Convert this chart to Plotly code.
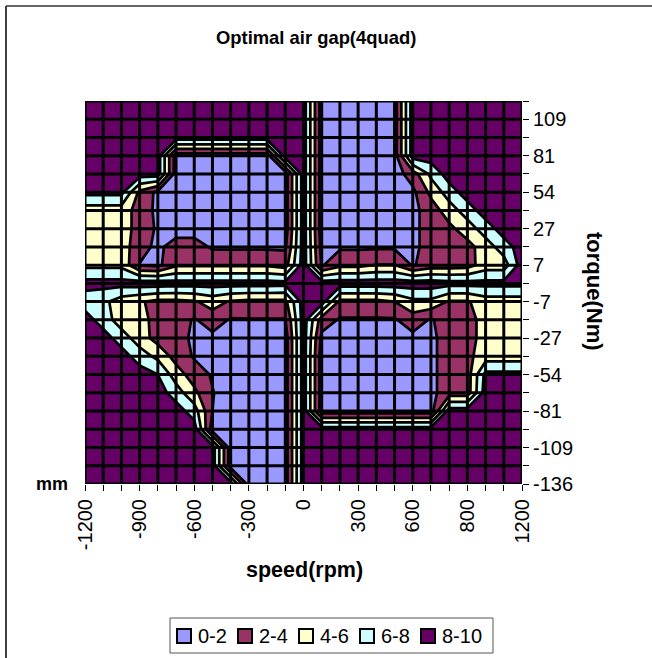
import plotly.graph_objects as go

W, H = 652, 658
L, R, T, B = 85, 522, 101, 484

title = "Optimal air gap(4quad)"
speed_labels = ["-1200", "", "", "-900", "", "", "-600", "", "", "-300", "", "", "0", "", "", "300", "", "", "600", "", "", "800", "", "", "1200"]
torque_labels = ["", "109", "", "81", "", "54", "", "27", "", "7", "", "-7", "", "-27", "", "-54", "", "-81", "", "-109", "", "-136"]
band_names = ["0-2", "2-4", "4-6", "6-8", "8-10"]
band_colors = ["#9999FF", "#993366", "#FFFFCC", "#CCFFFF", "#660066"]

gap_r00 = [9]*13 + [1]*5 + [9]*7
gap_r01 = [9]*13 + [1]*5 + [9]*7
gap_r02 = [9]*13 + [1]*5 + [9]*7
gap_r03 = [9]*5 + [1]*6 + [9, 9] + [1]*5 + [9]*7
gap_r04 = [9]*5 + [1]*7 + [9] + [1]*5 + [3, 6.5] + [9]*5
gap_r05 = [8.6]*3 + [3.5, 1.5] + [1]*7 + [9] + [1]*5 + [1.5, 4.5, 7] + [9]*4
gap_r06 = [5]*3 + [3.2, 1.5] + [1]*7 + [9] + [1]*5 + [1.4, 3, 5, 7] + [9]*3
gap_r07 = [5]*3 + [3.2, 1.7] + [1]*7 + [9] + [1]*5 + [1.4, 3, 3.5, 5, 7] + [9]*2
gap_r08 = [5]*3 + [2.8, 1.5, 3, 3] + [1.7]*5 + [9, 1.3] + [1.7]*4 + [1.4, 3, 3, 3.3, 5, 7, 9]
gap_r09 = [5.5]*3 + [1.9, 1.5] + [3.7]*6 + [3.2, 9, 1.8, 3.5, 3.5, 4.1, 4.1, 1.8, 3, 3, 3.2, 5, 5, 9]
gap_r10 = [8.7]*3 + [9]*2 + [8.8]*6 + [8.6, 9, 9] + [9]*6 + [8.7, 8.7, 8.6, 8.6, 8.6]
gap_r11 = [7, 6.5, 5, 4.2, 3.5, 3.5, 3.8, 4.8, 3.8, 3.5, 3.5, 3.5, 9, 9, 3.5, 3.5, 3.5, 4, 5.5, 5.5, 3.8, 3.8, 5, 5, 5]
gap_r12 = [9, 7, 5, 5, 3, 3, 1.8, 3, 1.8, 1.9, 1.9, 1.9, 9, 3, 1.8, 1.8, 1.8, 1.8, 3, 1.8, 3, 3, 5, 5, 5]
gap_r13 = [9, 9, 7, 5, 3.2, 3, 1.5, 1.5, 1, 1, 1, 1, 9, 1.5, 1, 1, 1, 1, 1.5, 1.5, 3, 3, 5, 5, 5]
gap_r14 = [9, 9, 9, 7, 5.5, 3.2, 1.8, 1, 1, 1, 1, 1, 9, 1, 1, 1, 1, 1, 1, 1.5, 3, 3.5, 5, 5, 5]
gap_r15 = [9, 9, 9, 9, 8, 5, 3, 1.8, 1, 1, 1, 1, 9, 1, 1, 1, 1, 1, 1, 1.5, 3, 3, 8.6, 8.6, 8.6]
gap_r16 = [9]*5 + [7, 4.5, 2.1] + [1]*4 + [9] + [1]*6 + [1.5, 3, 3, 9, 9, 9]
gap_r17 = [9]*6 + [7, 2] + [1]*4 + [9] + [1]*7 + [9]*5
gap_r18 = [9]*7 + [1]*5 + [9] + [9]*12
gap_r19 = [9]*8 + [1]*4 + [9] + [9]*12
gap_r20 = [9]*8 + [1]*4 + [9] + [9]*12
gap_r21 = [9]*9 + [1]*3 + [9] + [9]*12
gap = [gap_r00, gap_r01, gap_r02, gap_r03, gap_r04, gap_r05, gap_r06, gap_r07, gap_r08, gap_r09, gap_r10,
       gap_r11, gap_r12, gap_r13, gap_r14, gap_r15, gap_r16, gap_r17, gap_r18, gap_r19, gap_r20, gap_r21]

nx, ny = len(speed_labels), len(torque_labels)
xs, ys = list(range(nx)), list(range(ny))

stepped = []
for k, c in enumerate(band_colors):
    stepped += [[k / 5, c], [(k + 1) / 5, c]]

fig = go.Figure()
fig.add_trace(go.Contour(
    x=xs, y=ys, z=gap, colorscale=stepped, showscale=False, showlegend=False, hoverinfo="skip",
    autocontour=False, contours=dict(start=2, end=8, size=2, coloring="fill"),
    line=dict(color="black", width=2.7), connectgaps=False, line_smoothing=0,
))

# category grid over the filled bands
gx, gy = [], []
for i in xs:
    gx += [i, i, None]
    gy += [0, ny - 1, None]
for j in ys:
    gx += [0, nx - 1, None]
    gy += [j, j, None]
fig.add_trace(go.Scatter(x=gx, y=gy, mode="lines", line=dict(color="black", width=3),
                         showlegend=False, hoverinfo="skip", cliponaxis=False))


def px(v):
    return (v - L) / (R - L)


def py(v):
    return 1 - (v - T) / (B - T)


def rect(x0, y0, x1, y1, fill, color, width):
    return dict(type="rect", xref="paper", yref="paper", x0=px(x0), x1=px(x1), y0=py(y0), y1=py(y1),
                fillcolor=fill, line=dict(color=color, width=width))


# chart area frame: only top and left edges are visible
shapes = [
    dict(type="line", xref="paper", yref="paper", x0=px(6), x1=px(6), y0=py(6), y1=py(H), line=dict(color="black", width=1.5)),
    dict(type="line", xref="paper", yref="paper", x0=px(6), x1=px(W), y0=py(6), y1=py(6), line=dict(color="#333333", width=1.5)),
    rect(170, 618, 493, 653, "white", "#555555", 1),
]


def note(text, x, y, size, angle=0):
    return dict(text="<b>%s</b>" % text, x=px(x), y=py(y), xref="paper", yref="paper", xanchor="center", yanchor="middle",
                showarrow=False, textangle=angle, font=dict(size=size, color="black"))


annotations = [
    note(title, 316, 37, 18.4),
    note("speed(rpm)", 304, 570, 21.5),
    note("torque(Nm)", 595, 291, 22, 90),
    note("mm", 52, 484, 18),
]

for k, (name, color) in enumerate(zip(band_names, band_colors)):
    x0 = 177 + 61 * k
    shapes.append(rect(x0, 629, x0 + 14, 643, color, "black", 2))
    annotations.append(dict(text=name, x=px(x0 + 19), y=py(636), xref="paper", yref="paper", xanchor="left", yanchor="middle",
                            showarrow=False, font=dict(size=20, color="black")))

fig.update_layout(
    width=W, height=H, autosize=False, showlegend=False,
    margin=dict(l=L, r=W - R, t=T, b=H - B, pad=0),
    paper_bgcolor="white", plot_bgcolor="white",
    font=dict(family="Liberation Sans, Arial, sans-serif", color="black", size=20),
    shapes=shapes, annotations=annotations,
    xaxis=dict(range=[0, nx - 1], tickmode="array", tickvals=xs, ticktext=speed_labels, tickangle=-90,
               ticks="outside", ticklen=6, tickwidth=1, tickcolor="black", showgrid=False, zeroline=False,
               tickfont=dict(size=20), showline=False, automargin=False),
    yaxis=dict(range=[ny - 1, 0], tickmode="array", tickvals=ys, ticktext=torque_labels, side="right",
               ticks="outside", ticklen=6, tickwidth=1, tickcolor="black", showgrid=False, zeroline=False,
               tickfont=dict(size=20), showline=False, automargin=False),
)

fig.write_html("out.html", config=dict(displayModeBar=False),
               post_script="document.body.style.margin='0';")
